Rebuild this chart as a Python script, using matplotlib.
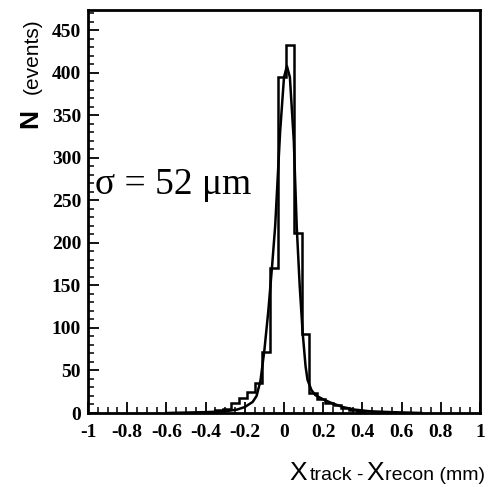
import numpy as np
import matplotlib
matplotlib.use("Agg")
import matplotlib.pyplot as plt
from matplotlib.ticker import MultipleLocator

# histogram of X_track - X_recon (mm), 0.04 mm bins starting at -0.39
bin_start = -0.39
bin_width = 0.04
counts = [1, 3, 5, 12, 18, 25, 35, 72, 170, 395,
          433, 212, 93, 24, 17, 12, 9, 6, 4, 2]

# fitted curve, points
fit_x = [-0.60, -0.40, -0.30, -0.24, -0.20, -0.16, -0.14, -0.12, -0.10, -0.08,
         -0.06, -0.045, -0.02, 0.0, 0.015, 0.03, 0.05, 0.065, 0.08, 0.095,
         0.11, 0.12, 0.14, 0.16, 0.20, 0.24, 0.30, 0.36, 0.44, 0.55, 0.70]
fit_y = [0, 1, 2, 4, 7, 13, 20, 38, 74, 120,
         175, 220, 330, 395, 408, 395, 320, 219, 150, 95,
         55, 39, 27, 21, 16, 12, 7, 4, 2, 1, 0]

x_ticks = [-1, -0.8, -0.6, -0.4, -0.2, 0, 0.2, 0.4, 0.6, 0.8, 1]
x_tick_labels = ["-1", "-0.8", "-0.6", "-0.4", "-0.2", "0", "0.2", "0.4", "0.6", "0.8", "1"]
y_ticks = [0, 50, 100, 150, 200, 250, 300, 350, 400, 450]

serif = ["Liberation Serif", "DejaVu Serif"]
sans = ["Liberation Sans", "DejaVu Sans"]

fig = plt.figure(figsize=(4.94, 4.87), dpi=100)
ax = fig.add_axes([88 / 494, 1 - 413 / 487, (480 - 88) / 494, (413 - 10) / 487])

edges = bin_start + bin_width * np.arange(len(counts) + 1)
ax.stairs(counts, edges, color="black", lw=1.8)
ax.plot(fit_x, fit_y, color="black", lw=1.8)

ax.set_xlim(-1, 1)
ax.set_ylim(0, 474)
ax.set_xticks(x_ticks)
ax.set_xticklabels(x_tick_labels)
ax.set_yticks(y_ticks)
ax.xaxis.set_minor_locator(MultipleLocator(0.05))
ax.yaxis.set_minor_locator(MultipleLocator(10))
ax.tick_params(which="major", direction="in", length=8, width=1.3)
ax.tick_params(which="minor", direction="in", length=4, width=1.1)
ax.tick_params(axis="x", which="major", pad=8)
ax.tick_params(axis="y", which="major", pad=5)
for lab in ax.get_xticklabels() + ax.get_yticklabels():
    lab.set_family(serif)
    lab.set_fontsize(14)
    lab.set_fontweight("bold")
for sp in ax.spines.values():
    sp.set_linewidth(2)

ax.text(-0.965, 268, "σ = 52 μm", family=serif, fontsize=27, va="center", ha="left")

# y label: big N plus smaller (events)
fig.text(30 / 494, 1 - 118 / 487, "N", rotation=90, family=sans, fontsize=19,
         fontweight="bold", ha="center", va="center")
fig.text(32 / 494, 1 - 56 / 487, "(events)", rotation=90, family=sans, fontsize=15,
         ha="center", va="center")

# x label pieces, laid out left to right
base = 1 - 480 / 487
pieces = [("X", 19, 0), ("track", 14, 3), ("-", 14, 4), ("X", 19, 4), ("recon (mm)", 14, 1)]
fig.canvas.draw()
renderer = fig.canvas.get_renderer()
px = 289
for s, fs, gap in pieces:
    px += gap
    t = fig.text(px / 494, base, s, family=sans, fontsize=fs, ha="left", va="baseline")
    px = t.get_window_extent(renderer).x1

fig.savefig("out.png", dpi=100)
